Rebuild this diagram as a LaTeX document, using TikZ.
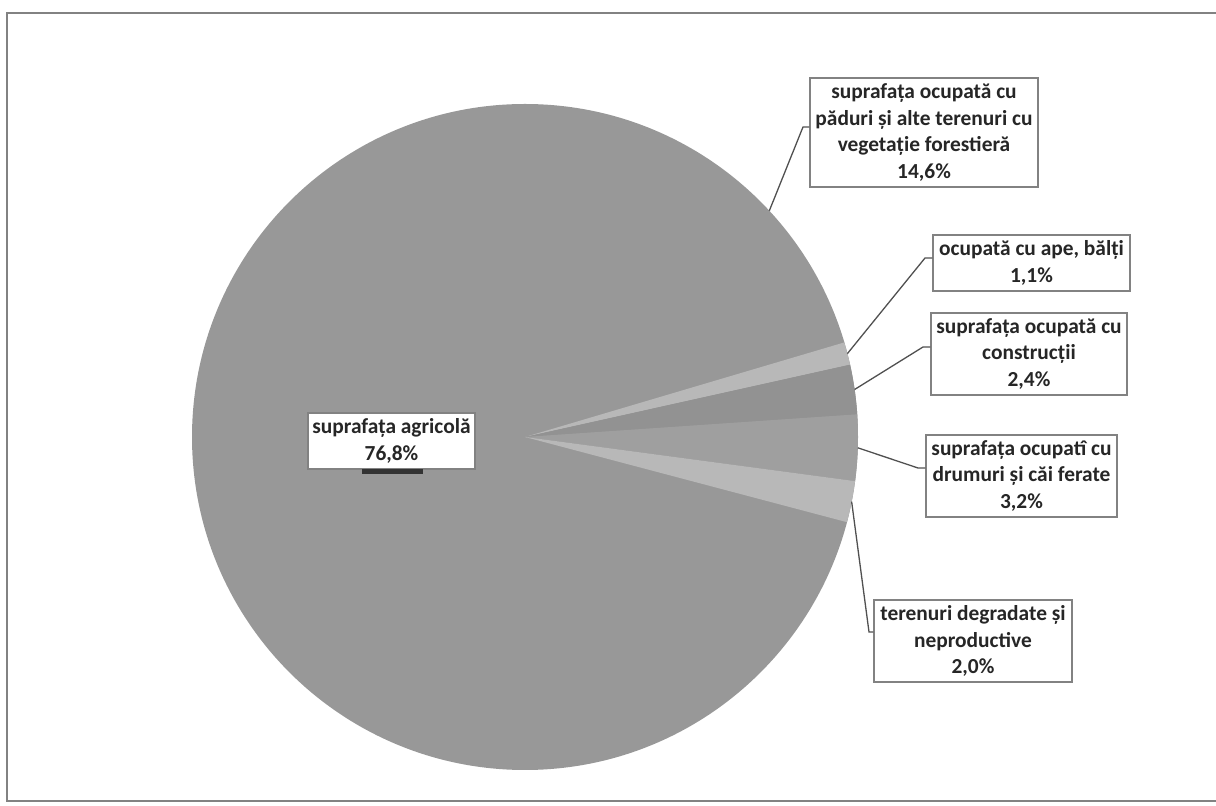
\documentclass[tikz,border=0pt]{standalone}
\usepackage{fontspec}
\setmainfont{Carlito}

\definecolor{piegray}{RGB}{152,152,152}
\definecolor{pieconstr}{RGB}{146,146,146}
\definecolor{piedrum}{RGB}{159,159,159}
\definecolor{pielight}{RGB}{184,184,184}
\definecolor{boxline}{RGB}{130,130,130}
\definecolor{leadline}{RGB}{80,80,80}

\tikzset{
  lbl/.style={draw=boxline, line width=1.2pt, fill=white, align=center, inner sep=0pt,
    font=\bfseries\fontsize{21.4}{26.5}\selectfont, text=black!85},
  leader/.style={leadline, line width=1.3pt}
}

\begin{document}
\begin{tikzpicture}[x=1pt,y=1pt]
 	\useasboundingbox (0,0) rectangle (1216,806);
 	\draw [boxline, line width=1.5pt] (1216,793) -- (7,793) -- (7,5) -- (1216,5);
 	
 	% agricultural and forest slices share one grey
 	\coordinate (c) at (525,369);
 	\fill [piegray] (c) circle (333pt);
 	\fill [pielight] (c) -- ++(16.5:333pt) arc (16.5:12.54:333pt) -- cycle;
 	\fill [pieconstr] (c) -- ++(12.54:333pt) arc (12.54:3.9:333pt) -- cycle;
 	\fill [piedrum] (c) -- ++(3.9:333pt) arc (3.9:-7.62:333pt) -- cycle;
 	\fill [pielight] (c) -- ++(-7.62:333pt) arc (-7.62:-14.82:333pt) -- cycle;
 	
 	\node [lbl, minimum width=228pt, minimum height=109pt] (forest) at (924,673.5) {suprafața ocupată cu\\păduri și alte terenuri cu\\vegetație forestieră\\14,6\%};
 	\node [lbl, minimum width=197pt, minimum height=56pt] (ape) at (1031.5,543) {ocupată cu ape, bălți\\1,1\%};
 	\node [lbl, minimum width=196pt, minimum height=82pt] (constr) at (1029,452) {suprafața ocupată cu\\construcții\\2,4\%};
 	\node [lbl, minimum width=191pt, minimum height=82pt] (drum) at (1021.5,330) {suprafața ocupatî cu\\drumuri și căi ferate\\3,2\%};
 	\node [lbl, minimum width=198pt, minimum height=82pt] (degr) at (973,165) {terenuri degradate și\\neproductive\\2,0\%};
 	\node [lbl, minimum width=167pt, minimum height=56pt] (agri) at (391.5,365) {suprafața agricolă\\76,8\%};
 	\fill [black!80] (362,332) rectangle (423,337);
 	
 	\path (c) ++(42.8:333pt) coordinate (pforest);
 	\path (c) ++(14.5:333pt) coordinate (pape);
 	\path (c) ++(8.2:333pt) coordinate (pconstr);
 	\path (c) ++(-1.86:333pt) coordinate (pdrum);
 	\path (c) ++(-11.2:333pt) coordinate (pdegr);
 	\coordinate (eforest) at (803,679);
 	\coordinate (eape) at (925,548);
 	\coordinate (econstr) at (923,459);
 	\coordinate (edrum) at (918,338);
 	\coordinate (edegr) at (869,174);
 	
 	\draw [leader] (pforest) -- (eforest) -- (eforest -| forest.west);
 	\draw [leader] (pape) -- (eape) -- (eape -| ape.west);
 	\draw [leader] (pconstr) -- (econstr) -- (econstr -| constr.west);
 	\draw [leader] (pdrum) -- (edrum) -- (edrum -| drum.west);
 	\draw [leader] (pdegr) -- (edegr) -- (edegr -| degr.west);
\end{tikzpicture}
\end{document}
